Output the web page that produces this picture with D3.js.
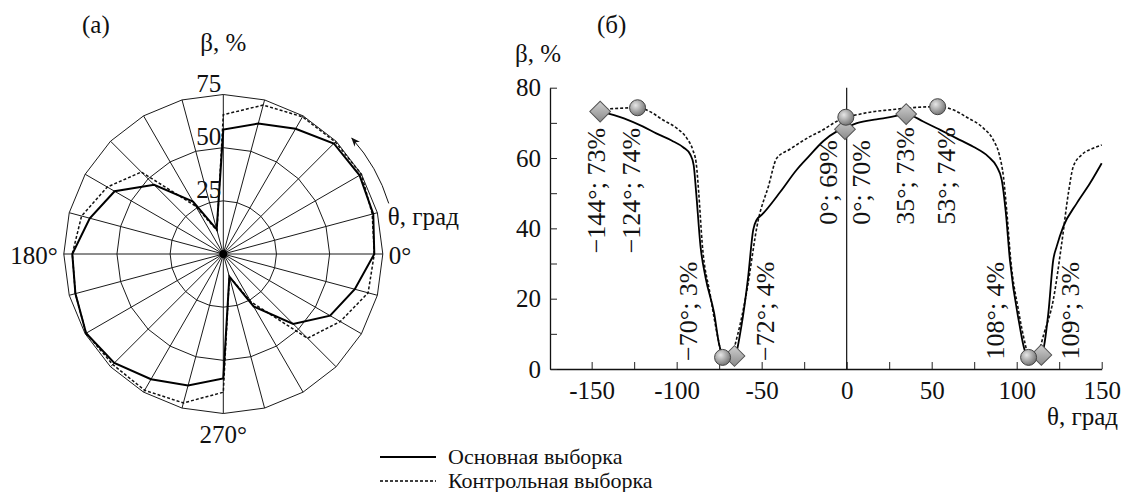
<!DOCTYPE html>
<html>
<head>
<meta charset="utf-8">
<script src="https://cdn.jsdelivr.net/npm/d3@7"></script>
<style>
  body { margin: 0; background: #fff; }
  svg text { font-family: "Liberation Serif", "Times New Roman", serif; fill: #111; }
</style>
</head>
<body>
<div id="chart"></div>
<script>
// ---- (a) polar chart data ----
const polarAngles = d3.range(0, 360, 15);
const polarMain    = [71, 73, 74, 73.5, 68, 63.5, 58.5, 12, 28.5, 46, 59, 65,
                      71, 72, 74.5, 72.5, 68, 64, 58.5, 11, 28.5, 46.5, 58, 64];
const polarControl = [71, 72.5, 75, 74.5, 74.5, 72.5, 65.5, 11.5, 26, 54.5, 63, 69,
                      71, 72, 74.5, 73.5, 74, 72.5, 65, 11, 26, 56, 63.5, 70.5];
const polarRings = [25, 50, 75];

// ---- (б) line chart data: [θ, β] ----
const mainCurve = [[-145,73.3],[-131,71.3],[-120,69],[-112,67],[-103,65],[-96,63],[-92,61],[-90,58],
  [-88.5,50],[-86,35],[-83,26],[-78,16],[-75,7],[-72,3.5],[-66,3.7],[-62,12],[-58,26],[-55,39.5],
  [-53,42.4],[-50,43.8],[-39,50.4],[-29.5,56.6],[-22,60.6],[-14,64.7],[-6,67.5],[-1,68.5],[6,69.9],
  [17.5,71],[25.5,71.6],[35,72.5],[45,70.4],[55,68],[64.7,65.6],[74.5,63.2],[83.3,60.4],[88.2,57.6],
  [91.2,53.8],[93.5,45],[96,31],[101.5,13],[105,5],[108,3.5],[114.5,4],[118.6,15.8],[121.5,31],
  [123.5,34.8],[127.4,40.5],[135.3,47.1],[143.1,52.8],[150,58.5]];
const controlCurve = [[-145,73.8],[-123,74.3],[-115.7,73.2],[-108,70.8],[-100,68.5],[-94,65.6],
  [-90.5,62.3],[-88.5,58.5],[-87,50],[-85,35.8],[-80.4,21.5],[-75.5,8.3],[-73,3.3],[-68,4],[-64,10],
  [-59,21.5],[-52,42.4],[-46,52],[-41.2,59.9],[-33.4,62.5],[-22,66],[-14,68],[-6,70.4],[-0.5,71.6],
  [6,72.3],[15.7,73.2],[25.5,73.7],[35.3,74.2],[53.5,74.6],[62.7,73.7],[70.6,71.6],[80.4,68.5],
  [86.3,65.1],[89.8,60.9],[92.2,54.7],[94.1,45.2],[96.5,31],[101,16.8],[104.9,7.3],[107.2,3.3],
  [112,4],[116,10],[121.5,19.6],[126.5,35.8],[130.4,50],[133.3,57.6],[138.2,60.9],[145,62.8],[150,63.7]];
const mainMarkers    = [[-145,73.2],[-66,3.7],[-1,68.2],[35,72.5],[114.5,4]];
const controlMarkers = [[-123,74.3],[-73,3.3],[-0.5,71.6],[53.5,74.6],[107,3.3]];
// text, θ position of baseline, β where text starts
const pointLabels = [
  ["\u2212144°; 73%", -142.2, 32.9], ["\u2212124°; 74%", -121.3, 32.9],
  ["\u221270°; 3%", -88.1, 2.3], ["\u221272°; 4%", -42.8, 2.3],
  ["0°; 69%", -5.7, 41], ["0°; 70%", 13.9, 41],
  ["35°; 73%", 39.4, 41], ["53°; 74%", 63.7, 41],
  ["108°; 4%", 92.3, 2.7], ["109°; 3%", 136.5, 2.7]];
const xTicks = d3.range(-150, 151, 25);
const yTicks = d3.range(0, 81, 10);

const W = 1125, H = 492;
const svg = d3.select("#chart").append("svg").attr("width", W).attr("height", H);

const defs = svg.append("defs");
const rg = defs.append("radialGradient").attr("id", "ball").attr("cx", "38%").attr("cy", "35%").attr("r", "70%");
rg.append("stop").attr("offset", "0%").attr("stop-color", "#e6e6e6");
rg.append("stop").attr("offset", "100%").attr("stop-color", "#6e6e6e");
const lg = defs.append("linearGradient").attr("id", "dia").attr("x1", "0").attr("y1", "0").attr("x2", "1").attr("y2", "1");
lg.append("stop").attr("offset", "0%").attr("stop-color", "#d0d0d0");
lg.append("stop").attr("offset", "100%").attr("stop-color", "#8a8a8a");
defs.append("marker").attr("id", "arr").attr("viewBox", "0 0 10 10").attr("refX", 9).attr("refY", 5)
  .attr("markerWidth", 9).attr("markerHeight", 9).attr("orient", "auto").attr("markerUnits", "userSpaceOnUse")
  .append("path").attr("d", "M0,1L10,5L0,9L3,5Z").attr("fill", "#111");

// ================= (a) polar =================
const cx = 223.3, cy = 254;
const r = d3.scaleLinear().domain([0, 75]).range([0, 159.5]);
const toRad = a => Math.PI / 2 - a * Math.PI / 180;
const pg = svg.append("g").attr("transform", `translate(${cx},${cy})`);

const ringLine = d3.lineRadial().angle(d => toRad(d)).curve(d3.curveLinearClosed);
polarRings.forEach(v => {
  pg.append("path").attr("d", ringLine.radius(r(v))(polarAngles))
    .attr("fill", "none").attr("stroke", "#1a1a1a").attr("stroke-width", 1);
});
pg.selectAll("line.spoke").data(polarAngles).join("line").attr("class", "spoke")
  .attr("x1", 0).attr("y1", 0)
  .attr("x2", d => r(75) * Math.cos(d * Math.PI / 180))
  .attr("y2", d => -r(75) * Math.sin(d * Math.PI / 180))
  .attr("stroke", "#1a1a1a").attr("stroke-width", 1);
pg.append("circle").attr("r", 4).attr("fill", "#000");

const dataLine = d3.lineRadial().angle((d, i) => toRad(polarAngles[i])).radius(d => r(d)).curve(d3.curveLinearClosed);
pg.append("path").attr("d", dataLine(polarControl)).attr("fill", "none")
  .attr("stroke", "#111").attr("stroke-width", 1.5).attr("stroke-dasharray", "3,2");
pg.append("path").attr("d", dataLine(polarMain)).attr("fill", "none")
  .attr("stroke", "#000").attr("stroke-width", 2);

polarRings.forEach(v => {
  pg.append("text").attr("x", -2).attr("y", -r(v) - 3).attr("text-anchor", "end")
    .style("font-size", "25px").text(v);
});
pg.append("text").attr("x", r(75) + 6).attr("y", 10).style("font-size", "25px").text("0°");
pg.append("text").attr("x", -r(75) - 6).attr("y", 10).attr("text-anchor", "end").style("font-size", "25px").text("180°");
pg.append("text").attr("x", 0).attr("y", r(75) + 29).attr("text-anchor", "middle").style("font-size", "25px").text("270°");

const arcPath = d3.path();
arcPath.arc(0, 0, 173, -17 * Math.PI / 180, -42 * Math.PI / 180, true);
pg.append("path").attr("d", arcPath.toString()).attr("fill", "none")
  .attr("stroke", "#111").attr("stroke-width", 1).attr("marker-end", "url(#arr)");
pg.append("text").attr("x", r(75) + 5).attr("y", -29).style("font-size", "25px").text("θ, град");
pg.append("text").attr("x", 0).attr("y", -203).attr("text-anchor", "middle").style("font-size", "25px").text("β, %");
svg.append("text").attr("x", 82).attr("y", 33).style("font-size", "25px").text("(a)");

// ================= (б) line chart =================
const x = d3.scaleLinear().domain([-174.5, 150]).range([550, 1101.7]);
const y = d3.scaleLinear().domain([0, 80]).range([369, 87.7]);

const gx = svg.append("g").attr("transform", `translate(0,${y(0)})`)
  .call(d3.axisBottom(x).tickValues(xTicks).tickSizeInner(-7).tickSizeOuter(0).tickPadding(12)
    .tickFormat(d => d % 50 === 0 ? String(d) : ""));
const gy = svg.append("g").attr("transform", `translate(${x.range()[0]},0)`)
  .call(d3.axisLeft(y).tickValues(yTicks).tickSizeInner(-7).tickSizeOuter(0).tickPadding(9)
    .tickFormat(d => d % 20 === 0 ? String(d) : ""));
[gx, gy].forEach(g => {
  g.attr("font-family", null).attr("font-size", null);
  g.selectAll("text").style("font-size", "25px").attr("fill", "#111");
  g.selectAll("line").attr("stroke", "#222");
  g.select(".domain").attr("stroke", "#111").attr("stroke-width", 1.3);
});

svg.append("line").attr("x1", x(0)).attr("x2", x(0)).attr("y1", y(0)).attr("y2", y(80))
  .attr("stroke", "#111").attr("stroke-width", 1.2);

const curve = d3.line().x(d => x(d[0])).y(d => y(d[1])).curve(d3.curveMonotoneX);
svg.append("path").attr("d", curve(controlCurve)).attr("fill", "none")
  .attr("stroke", "#111").attr("stroke-width", 1.6).attr("stroke-dasharray", "3,2");
svg.append("path").attr("d", curve(mainCurve)).attr("fill", "none")
  .attr("stroke", "#000").attr("stroke-width", 1.8);

svg.selectAll("text.plab").data(pointLabels).join("text").attr("class", "plab")
  .attr("transform", d => `translate(${x(d[1])},${y(d[2])}) rotate(-90)`)
  .style("font-size", "26px").text(d => d[0]);

svg.selectAll("path.dia").data(mainMarkers).join("path").attr("class", "dia")
  .attr("d", d3.symbol(d3.symbolSquare, 215))
  .attr("transform", d => `translate(${x(d[0])},${y(d[1])}) rotate(45)`)
  .attr("fill", "url(#dia)").attr("stroke", "#555").attr("stroke-width", 1);
svg.selectAll("circle.ball").data(controlMarkers).join("circle").attr("class", "ball")
  .attr("cx", d => x(d[0])).attr("cy", d => y(d[1])).attr("r", 8)
  .attr("fill", "url(#ball)").attr("stroke", "#444").attr("stroke-width", 1);

svg.append("text").attr("x", 515).attr("y", 62).style("font-size", "25px").text("β, %");
svg.append("text").attr("x", 1118).attr("y", 425).attr("text-anchor", "end").style("font-size", "25px").text("θ, град");
svg.append("text").attr("x", 597).attr("y", 33).style("font-size", "25px").text("(б)");

// ================= legend =================
const legend = [["Основная выборка", null, 457], ["Контрольная выборка", "3,2", 481]];
legend.forEach(([label, dash, ly]) => {
  svg.append("line").attr("x1", 380).attr("x2", 436).attr("y1", ly).attr("y2", ly)
    .attr("stroke", "#000").attr("stroke-width", dash ? 1.6 : 2).attr("stroke-dasharray", dash);
  svg.append("text").attr("x", 448).attr("y", ly + 7).style("font-size", "22px").text(label);
});
</script>
</body>
</html>
